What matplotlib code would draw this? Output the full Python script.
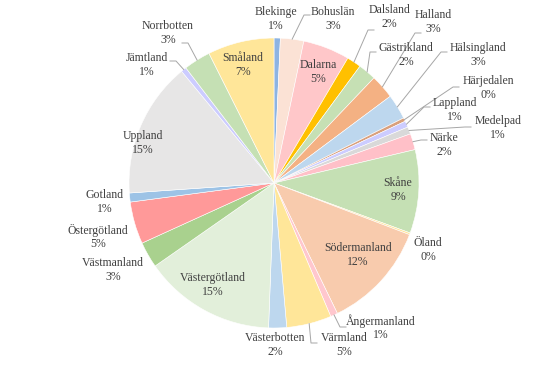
import numpy as np
import matplotlib.pyplot as plt

# provinces in drawing order, clockwise from 12 o'clock
names = ['Blekinge', 'Bohuslän', 'Dalarna', 'Dalsland', 'Gästrikland', 'Halland',
         'Hälsingland', 'Härjedalen', 'Lappland', 'Medelpad', 'Närke', 'Skåne',
         'Öland', 'Södermanland', 'Ångermanland', 'Värmland', 'Västerbotten',
         'Västergötland', 'Västmanland', 'Östergötland', 'Gotland', 'Uppland',
         'Jämtland', 'Norrbotten', 'Småland']
shares = [0.7, 2.6, 5.2, 1.6, 2.0, 2.7,
          2.8, 0.4, 0.7, 0.8, 1.8, 9.3,
          0.2, 12.0, 0.8, 5.0, 2.0,
          14.7, 2.9, 4.7, 1.0, 15.1,
          0.6, 3.0, 7.4]
colors = ['#8db4e2', '#fbe2d5', '#ffc7c9', '#ffc000', '#c6e0b4', '#f4b183',
          '#bdd7ee', '#d9a07c', '#ccccff', '#d9d9d9', '#ffc0c8', '#c5e0b4',
          '#ffe699', '#f8cbad', '#ffc7ce', '#ffe699', '#bdd7ee',
          '#e2efda', '#a9d18e', '#ff9999', '#9dc3e6', '#e7e6e6',
          '#ccccff', '#c5e0b4', '#ffe699']

# label layout in reference pixels: text centre, and (optional) leader end
CX, CY, R = 274, 183, 145
label_pos = {
    'Blekinge': (276, 19), 'Bohuslän': (333, 19), 'Dalarna': (318, 72),
    'Dalsland': (389, 17), 'Gästrikland': (406, 55), 'Halland': (433, 22),
    'Hälsingland': (478, 55), 'Härjedalen': (488, 88), 'Lappland': (455, 110),
    'Medelpad': (498, 128), 'Närke': (444, 145), 'Skåne': (398, 190),
    'Öland': (428, 250), 'Södermanland': (358, 255), 'Ångermanland': (381, 328),
    'Värmland': (344, 345), 'Västerbotten': (275, 345), 'Västergötland': (213, 285),
    'Västmanland': (113, 270), 'Östergötland': (98, 237), 'Gotland': (105, 202),
    'Uppland': (143, 143), 'Jämtland': (147, 65), 'Norrbotten': (168, 33),
    'Småland': (243, 65),
}
leader_end = {
    'Bohuslän': (310, 15), 'Dalsland': (374, 30), 'Gästrikland': (376, 52),
    'Halland': (421, 33), 'Hälsingland': (447, 52), 'Härjedalen': (459, 87),
    'Lappland': (430, 107), 'Medelpad': (471, 127), 'Närke': (427, 140),
    'Ångermanland': (346, 327), 'Värmland': (317, 343),
    'Jämtland': (170, 61), 'Norrbotten': (182, 43),
}


def px(p):
    return ((p[0] - CX) / R, (CY - p[1]) / R)


fig = plt.figure(figsize=(5.47, 3.66), dpi=100)
ax = fig.add_axes([0, 0, 1, 1])
ax.axis('off')

wedges, _ = ax.pie(shares, colors=colors, startangle=90, counterclock=False,
                   radius=1.0, wedgeprops=dict(edgecolor='white', linewidth=0.4))
ax.set_xlim(-CX / R, (547 - CX) / R)
ax.set_ylim(-(366 - CY) / R, CY / R)
ax.set_aspect('auto')

tot = sum(shares)
style = dict(ha='center', va='center', fontsize=8.5,
             family='Liberation Serif', color='#404040')
for w, name, v in zip(wedges, names, shares):
    pct = round(v / tot * 100)
    lx, ly = label_pos[name]
    # name and percent as two lines, 14 px apart
    ax.text(*px((lx, ly - 7)), name, **style)
    ax.text(*px((lx, ly + 7)), f'{pct}%', **style)
    if name in leader_end:
        mid = np.deg2rad((w.theta1 + w.theta2) / 2)
        ex, ey = px(leader_end[name])
        sx, sy = np.cos(mid), np.sin(mid)
        step = 6 / R if ex > 0 else -6 / R
        ax.plot([sx, ex - step, ex], [sy, ey, ey], color='#a6a6a6', lw=0.7)

fig.savefig('out.png', dpi=100)
